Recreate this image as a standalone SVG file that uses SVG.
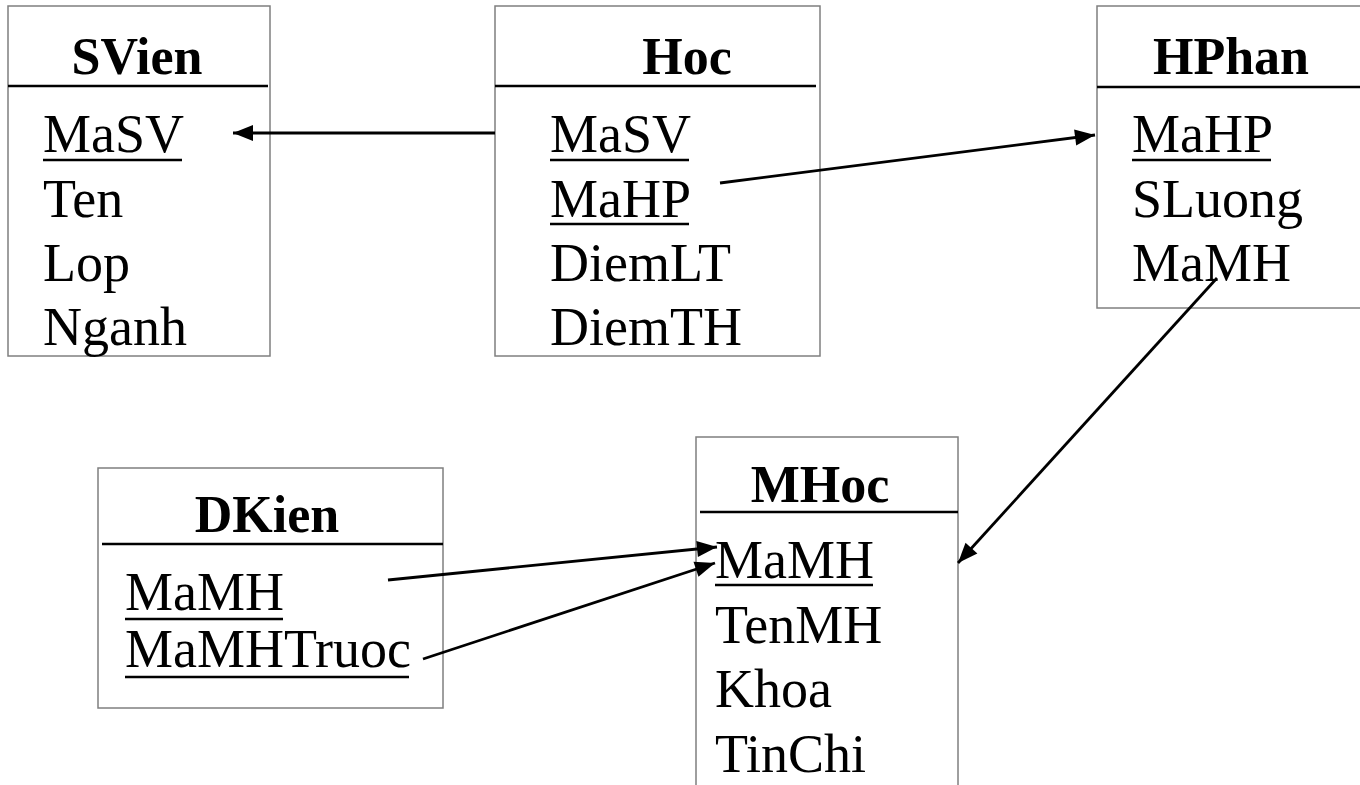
<svg xmlns="http://www.w3.org/2000/svg" width="1360" height="785" viewBox="0 0 1360 785">
  <style>
    .box { fill: #ffffff; stroke: #7f7f7f; stroke-width: 1.5; }
    .div { stroke: #000000; stroke-width: 2.5; }
    .ul { stroke: #000000; stroke-width: 2.5; }
    .title { font-family: "Liberation Serif", "Times New Roman", serif; font-weight: bold; font-size: 52px; fill: #000; text-anchor: middle; }
    .attr { font-family: "Liberation Serif", "Times New Roman", serif; font-size: 54px; fill: #000; }
    .conn { stroke: #000000; stroke-width: 2.8; fill: none; marker-end: url(#arrow); }
  </style>
  <defs>
    <marker id="arrow" markerUnits="userSpaceOnUse" markerWidth="22" markerHeight="18" refX="20" refY="9" orient="auto" overflow="visible">
      <path d="M0,1 L20,9 L0,17 z" fill="#000"/>
    </marker>
  </defs>
  <rect width="1360" height="785" fill="#ffffff"/>

  <g id="SVien">
    <rect class="box" x="8" y="6" width="262" height="350"/>
    <line class="div" x1="8" y1="86" x2="268" y2="86"/>
    <text class="title" x="137" y="74">SVien</text>
    <text class="attr" x="43" y="152">MaSV</text>
    <line class="ul" x1="43" y1="160" x2="182" y2="160"/>
    <text class="attr" x="43" y="217">Ten</text>
    <text class="attr" x="43" y="281">Lop</text>
    <text class="attr" x="43" y="345">Nganh</text>
  </g>

  <g id="Hoc">
    <rect class="box" x="495" y="6" width="325" height="350"/>
    <line class="div" x1="495" y1="86" x2="816" y2="86"/>
    <text class="title" x="687" y="74">Hoc</text>
    <text class="attr" x="550" y="152">MaSV</text>
    <line class="ul" x1="550" y1="160" x2="689" y2="160"/>
    <text class="attr" x="550" y="217">MaHP</text>
    <line class="ul" x1="550" y1="224" x2="689" y2="224"/>
    <text class="attr" x="550" y="281">DiemLT</text>
    <text class="attr" x="550" y="345">DiemTH</text>
  </g>

  <g id="HPhan">
    <rect class="box" x="1097" y="6" width="270" height="302"/>
    <line class="div" x1="1097" y1="87" x2="1360" y2="87"/>
    <text class="title" x="1231" y="74">HPhan</text>
    <text class="attr" x="1132" y="152">MaHP</text>
    <line class="ul" x1="1132" y1="160" x2="1271" y2="160"/>
    <text class="attr" x="1132" y="217">SLuong</text>
    <text class="attr" x="1132" y="281">MaMH</text>
  </g>

  <g id="DKien">
    <rect class="box" x="98" y="468" width="345" height="240"/>
    <line class="div" x1="102" y1="544" x2="443" y2="544"/>
    <text class="title" x="267" y="532">DKien</text>
    <text class="attr" x="125" y="610">MaMH</text>
    <line class="ul" x1="125" y1="619" x2="283" y2="619"/>
    <text class="attr" x="125" y="667">MaMHTruoc</text>
    <line class="ul" x1="125" y1="677" x2="409" y2="677"/>
  </g>

  <g id="MHoc">
    <rect class="box" x="696" y="437" width="262" height="360"/>
    <line class="div" x1="700" y1="512" x2="958" y2="512"/>
    <text class="title" x="820" y="502">MHoc</text>
    <text class="attr" x="715" y="578">MaMH</text>
    <line class="ul" x1="715" y1="585" x2="873" y2="585"/>
    <text class="attr" x="715" y="643">TenMH</text>
    <text class="attr" x="715" y="707">Khoa</text>
    <text class="attr" x="715" y="772">TinChi</text>
  </g>

  <g id="connectors">
    <line class="conn" x1="495" y1="133" x2="233" y2="133"/>
    <line class="conn" x1="720" y1="183" x2="1095" y2="135"/>
    <line class="conn" x1="1217" y1="278" x2="958" y2="563"/>
    <line class="conn" x1="388" y1="580" x2="717" y2="547"/>
    <line class="conn" x1="423" y1="659" x2="715" y2="563"/>
  </g>
</svg>
